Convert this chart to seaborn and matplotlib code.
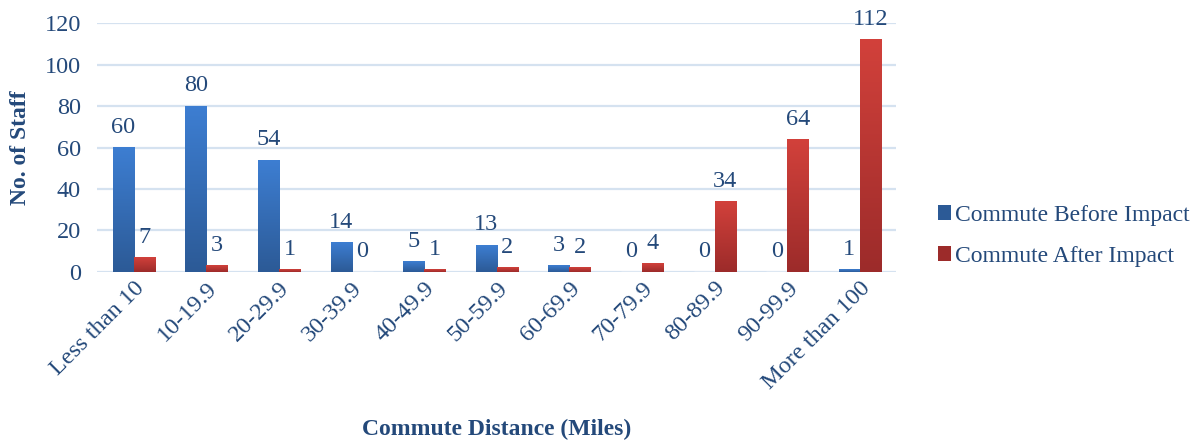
import numpy as np
import pandas as pd
import matplotlib
matplotlib.use("Agg")
import matplotlib.pyplot as plt
from matplotlib.colors import LinearSegmentedColormap
from matplotlib.patches import Patch
import seaborn as sns

categories = ["Less than 10", "10-19.9", "20-29.9", "30-39.9", "40-49.9",
              "50-59.9", "60-69.9", "70-79.9", "80-89.9", "90-99.9", "More than 100"]
before_impact = [60, 80, 54, 14, 5, 13, 3, 0, 0, 0, 1]
after_impact = [7, 3, 1, 0, 1, 2, 2, 4, 34, 64, 112]
series_names = ["Commute Before Impact", "Commute After Impact"]

df = pd.DataFrame({
    "Distance": categories * 2,
    "Staff": before_impact + after_impact,
    "Series": [series_names[0]] * len(categories) + [series_names[1]] * len(categories),
})

sns.set_theme(style="white")
plt.rcParams["font.family"] = ["Liberation Serif", "DejaVu Serif"]

text_color = "#24497a"
grid_color = "#d5e2f0"
fs = 17.5
base_colors = {series_names[0]: ("#3d7ed2", "#2c5a96"),
               series_names[1]: ("#d2413b", "#9c2b2a")}

fig = plt.figure(figsize=(12.03, 4.45), dpi=100)
ax = fig.add_axes([0.081, 0.389, 0.664, 0.559])

sns.barplot(data=df, x="Distance", y="Staff", hue="Series", order=categories,
            hue_order=series_names, palette=[base_colors[s][0] for s in series_names],
            width=0.58, gap=0, ax=ax, legend=False, zorder=3)

ax.set_ylim(0, 120)
ax.set_xlim(-0.5, len(categories) - 0.5)
ax.set_yticks(range(0, 121, 20))
ax.yaxis.grid(True, color=grid_color, linewidth=1.6, zorder=0)
ax.set_axisbelow(True)
for sp in ax.spines.values():
    sp.set_visible(False)

# vertical gradient fill for each bar
grad = np.linspace(0, 1, 256).reshape(-1, 1)
for container, name in zip(ax.containers, series_names):
    top, bottom = base_colors[name]
    cmap = LinearSegmentedColormap.from_list(name, [bottom, top])
    for bar in container:
        h = bar.get_height()
        if h <= 0:
            continue
        x0 = bar.get_x()
        w = bar.get_width()
        ax.imshow(grad, extent=[x0, x0 + w, 0, h], origin="lower", cmap=cmap,
                  aspect="auto", zorder=3, interpolation="bicubic")
        bar.set_alpha(0)
    ax.bar_label(container, padding=7, fontsize=fs, color=text_color)

ax.set_xlim(-0.5, len(categories) - 0.5)
ax.set_ylim(0, 120)

ax.tick_params(axis="y", labelsize=fs, labelcolor=text_color, length=0, pad=12)
ax.tick_params(axis="x", labelsize=fs, labelcolor=text_color, length=0, pad=4)
plt.setp(ax.get_xticklabels(), rotation=45, ha="right", rotation_mode="anchor")

ax.set_ylabel("No. of Staff", fontsize=17, fontweight="bold", color=text_color, labelpad=10)
ax.set_xlabel("")
fig.text(0.413, 0.012, "Commute Distance (Miles)", fontsize=17, fontweight="bold",
         color=text_color, ha="center", va="bottom")

handles = [Patch(facecolor=base_colors[s][1], edgecolor="none") for s in series_names]
fig.legend(handles, series_names, loc="center left", bbox_to_anchor=(0.780, 0.47),
           frameon=False, fontsize=17, labelcolor=text_color, handlelength=0.55,
           handleheight=0.55, handletextpad=0.15, labelspacing=0.85,
           borderaxespad=0, borderpad=0)

fig.savefig("out.png", dpi=100)
